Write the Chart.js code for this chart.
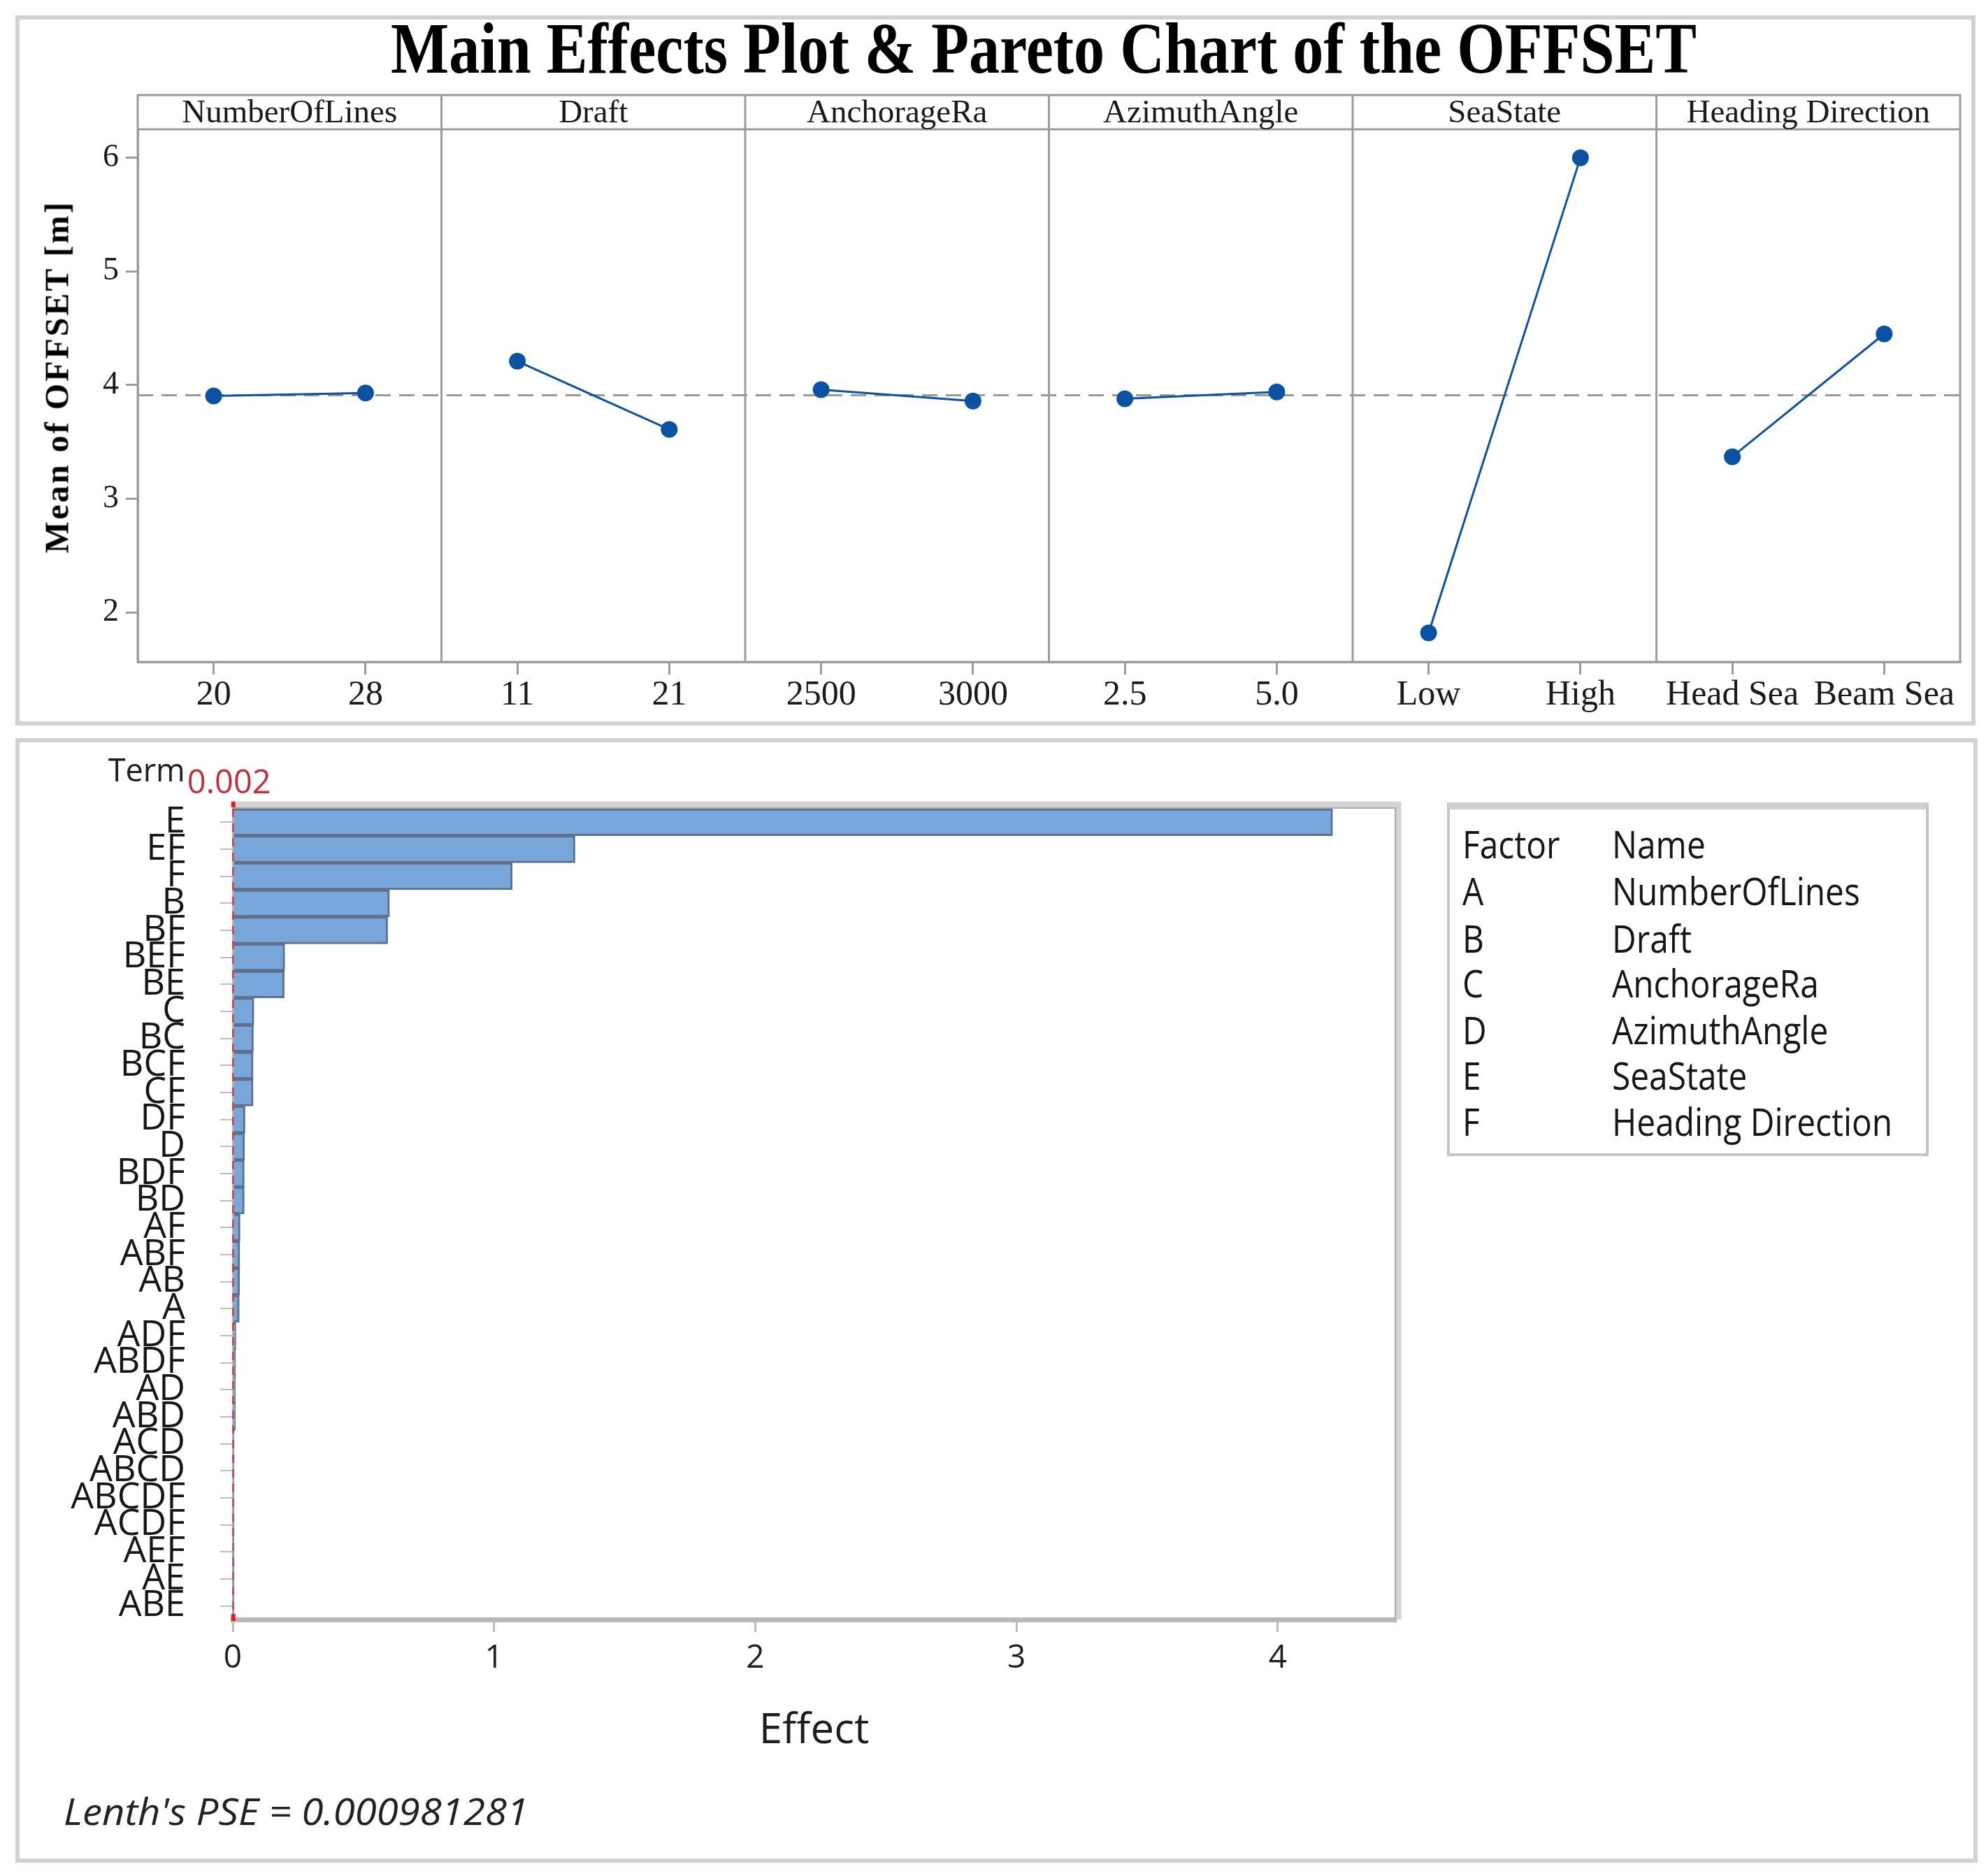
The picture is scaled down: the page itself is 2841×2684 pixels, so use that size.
<!DOCTYPE html>
<html><head><meta charset="utf-8">
<script src="https://cdn.jsdelivr.net/npm/chart.js@4.4.1/dist/chart.umd.min.js"></script>
<style>
html,body{margin:0;padding:0;background:#fff;}
body{width:2841px;height:2684px;position:relative;overflow:hidden;}
.panel{position:absolute;border:6px solid #d2d2d2;box-sizing:border-box;}
canvas{position:absolute;left:0;}
.txt{position:absolute;white-space:nowrap;transform-origin:0 0;color:#1e1e1e;}
#legend{position:absolute;left:2070px;top:1148px;width:689px;height:506px;box-sizing:border-box;border:4px solid #c4c4c4;border-top:10px solid #d0d0d0;}
</style></head><body>
<div class="panel" style="left:22px;top:22px;width:2804px;height:1016px"></div>
<div class="panel" style="left:22px;top:1056px;width:2807px;height:1609px"></div>
<div id="legend"></div>
<canvas id="me" width="2841" height="1060" style="top:0"></canvas>
<canvas id="pa" width="2841" height="1624" style="top:1060px"></canvas>
<script>
// ---------- data: main effects ----------
const factorNames = ['NumberOfLines','Draft','AnchorageRa','AzimuthAngle','SeaState','Heading Direction'];
const levelLabels = ['20','28','11','21','2500','3000','2.5','5.0','Low','High','Head Sea','Beam Sea'];
const lowMeans  = [3.905, 4.21, 3.96, 3.88, 1.82, 3.37];
const highMeans = [3.93, 3.61, 3.86, 3.94, 6.00, 4.45];
const grandMean = 3.91;
const meanTicks = [2, 3, 4, 5, 6];
const meanTitle = 'Mean of OFFSET [m]';

// ---------- data: pareto ----------
const terms = ['E','EF','F','B','BF','BEF','BE','C','BC','BCF','CF','DF','D','BDF','BD','AF','ABF','AB','A','ADF','ABDF','AD','ABD','ACD','ABCD','ABCDF','ACDF','AEF','AE','ABE'];
const effects = [4.21, 1.31, 1.07, 0.60, 0.593, 0.199, 0.197, 0.081, 0.079, 0.078, 0.078, 0.047, 0.045, 0.044, 0.044, 0.028, 0.027, 0.026, 0.025, 0.012, 0.011, 0.010, 0.010, 0.002, 0.002, 0.0015, 0.0015, 0.001, 0.001, 0.001];
const effectTicks = [0, 1, 2, 3, 4];
const refEffect = 0.002;
const factorLetters = ['A','B','C','D','E','F'];
const pseText = "Lenth's PSE = 0.000981281";

// ---------- text helper ----------
const METRICS = {
  'Liberation Serif': {a:0.891, d:0.216, cap:0.662},
  'Open Sans': {a:1.069, d:0.293, cap:0.714}
};
function placeText(txt, o) {
  const el = document.createElement('div');
  el.className = 'txt';
  el.textContent = txt;
  el.style.font = `${o.style||'normal'} ${o.weight||'normal'} ${o.size}px '${o.family}'`;
  el.style.lineHeight = '1';
  if (o.color) el.style.color = o.color;
  document.body.appendChild(el);
  const nat = el.getBoundingClientRect().width;
  const sx = o.width ? o.width / nat : (o.scale || 1);
  const m = METRICS[o.family];
  const baseline = o.capY + m.cap * o.size / 2;
  const top = baseline - (m.a - (m.a + m.d - 1) / 2) * o.size;
  let left = o.x;
  if (o.align === 'center') left = o.x - nat * sx / 2;
  el.style.left = left + 'px';
  el.style.top = top + 'px';
  el.style.transform = `scaleX(${sx})`;
}

placeText('Main Effects Plot & Pareto Chart of the OFFSET',
  {family:'Liberation Serif', weight:'bold', size:104, x:1493, align:'center', width:1868, capY:70, color:'#000'});

// rotated y-axis title of the main effects plot
(function () {
  const el = document.createElement('div');
  el.className = 'txt';
  el.textContent = meanTitle;
  el.style.font = "bold 48px 'Liberation Serif'";
  el.style.lineHeight = '1';
  el.style.letterSpacing = '3px';
  el.style.color = '#000';
  document.body.appendChild(el);
  const r = el.getBoundingClientRect();
  el.style.left = (82 - r.width / 2) + 'px';
  el.style.top = (539 - r.height / 2) + 'px';
  el.style.transformOrigin = '50% 50%';
  el.style.transform = 'rotate(-90deg)';
})();

// legend
const legRows = [['Factor','Name']].concat(factorLetters.map((l,i)=>[l, factorNames[i]]));
const legY = [1209, 1276, 1344, 1408, 1475, 1540, 1606];
legRows.forEach((r, i) => {
  placeText(r[0], {family:'Open Sans', size:54, x:2092, capY:legY[i], scale:0.886, color:'#161616'});
  placeText(r[1], {family:'Open Sans', size:54, x:2306, capY:legY[i], scale:0.886, color:'#161616'});
});
placeText(pseText, {family:'Open Sans', style:'italic', size:53, x:91, capY:2592, width:665, color:'#222'});

Chart.defaults.devicePixelRatio = 1;

// ---------- main effects chart ----------
const meDatasets = factorNames.map((name, i) => ({
  label: name,
  data: levelLabels.map((_, j) => j === 2*i ? lowMeans[i] : (j === 2*i+1 ? highMeans[i] : null)),
  borderColor: '#0b52a2',
  backgroundColor: '#0b52a2',
  borderWidth: 3,
  pointRadius: 12,
  pointBorderWidth: 0,
  pointBackgroundColor: '#0b52a2',
  spanGaps: false,
  tension: 0
}));

const mePanels = {
  id: 'mePanels',
  beforeDatasetsDraw(chart) {
    const {ctx, chartArea: a, scales: {x, y}} = chart;
    const band = (a.right - a.left) / levelLabels.length;
    const hTop = a.top - 49;
    ctx.save();
    // mean line
    ctx.strokeStyle = '#9a9a9a'; ctx.lineWidth = 3; ctx.setLineDash([22, 12]);
    const my = y.getPixelForValue(grandMean);
    ctx.beginPath(); ctx.moveTo(a.left, my); ctx.lineTo(a.right, my); ctx.stroke();
    ctx.setLineDash([]);
    // frame, header strip, separators
    ctx.strokeStyle = '#9c9c9c'; ctx.lineWidth = 3;
    ctx.strokeRect(a.left, hTop, a.right - a.left, a.bottom - hTop);
    ctx.beginPath(); ctx.moveTo(a.left, a.top); ctx.lineTo(a.right, a.top);
    for (let k = 1; k < factorNames.length; k++) {
      const px = x.getPixelForValue(2*k) - band / 2;
      ctx.moveTo(px, hTop); ctx.lineTo(px, a.bottom);
    }
    ctx.stroke();
    ctx.fillStyle = '#1a1a1a';
    ctx.font = "47px 'Liberation Serif'";
    ctx.textAlign = 'center'; ctx.textBaseline = 'middle';
    factorNames.forEach((n, k) => {
      const cx = (x.getPixelForValue(2*k) + x.getPixelForValue(2*k+1)) / 2;
      ctx.fillText(n, cx, (hTop + a.top) / 2 + 2);
    });
    ctx.restore();
  }
};

new Chart(document.getElementById('me'), {
  type: 'line',
  data: { labels: levelLabels, datasets: meDatasets },
  options: {
    responsive: false, animation: false,
    layout: { padding: { left: 0, right: 37, top: 185, bottom: 0 } },
    plugins: { legend: { display: false }, tooltip: { enabled: false }, title: { display: false } },
    scales: {
      x: {
        type: 'category', offset: true,
        grid: { display: true, drawOnChartArea: false, drawTicks: true, tickLength: 18, color: '#9c9c9c', lineWidth: 3, offset: false },
        border: { display: true, color: '#9c9c9c', width: 3 },
        ticks: { font: { family: 'Liberation Serif', size: 50 }, color: '#1a1a1a', padding: 0, maxRotation: 0, autoSkip: false },
        afterFit(s) { s.height = 113; }
      },
      y: {
        min: 1.565, max: 6.25,
        afterBuildTicks(s) { s.ticks = meanTicks.map(v => ({ value: v })); },
        grid: { display: true, drawOnChartArea: false, drawTicks: true, tickLength: 17, color: '#9c9c9c', lineWidth: 3 },
        border: { display: true, color: '#9c9c9c', width: 3 },
        ticks: { font: { family: 'Liberation Serif', size: 46 }, color: '#1a1a1a', padding: 10 },
        afterFit(s) { s.width = 197; }
      }
    }
  },
  plugins: [mePanels]
});

// ---------- pareto chart ----------
const paDeco = {
  id: 'paDeco',
  beforeDatasetsDraw(chart) {
    const {ctx, chartArea: a, scales: {x}} = chart;
    const rx = x.getPixelForValue(refEffect);
    ctx.save();
    ctx.strokeStyle = '#d03a3a'; ctx.lineWidth = 3; ctx.setLineDash([12, 9]);
    ctx.beginPath(); ctx.moveTo(rx, a.top); ctx.lineTo(rx, a.bottom); ctx.stroke();
    ctx.restore();
  },
  afterDraw(chart) {
    const {ctx, chartArea: a, scales: {x}} = chart;
    const rx = x.getPixelForValue(refEffect);
    ctx.save();
    // frame top & right
    ctx.strokeStyle = '#d3d3d3'; ctx.lineWidth = 9;
    ctx.beginPath(); ctx.moveTo(a.left, a.top - 6); ctx.lineTo(a.right + 4, a.top - 6); ctx.lineTo(a.right + 4, a.bottom); ctx.stroke();
    ctx.strokeStyle = '#ababab'; ctx.lineWidth = 2;
    ctx.beginPath(); ctx.moveTo(a.left, a.top - 1); ctx.lineTo(a.right, a.top - 1); ctx.lineTo(a.right, a.bottom); ctx.stroke();
    // red marks at ends of reference line
    ctx.fillStyle = '#e02020';
    ctx.fillRect(rx - 3, a.top - 10, 6, 8);
    ctx.fillRect(rx - 3, a.bottom - 8, 6, 10);
    // Term and reference label
    ctx.textBaseline = 'alphabetic';
    ctx.fillStyle = '#1e1e1e'; ctx.textAlign = 'right';
    ctx.font = "45px 'Open Sans'";
    ctx.fillText('Term', rx - 69, 58);
    ctx.fillStyle = '#c0303a'; ctx.textAlign = 'center';
    ctx.font = "47px 'Open Sans'";
    ctx.fillText(String(refEffect), rx - 6, 75);
    ctx.restore();
  }
};

new Chart(document.getElementById('pa'), {
  type: 'bar',
  data: { labels: terms, datasets: [{
    label: 'Effect', data: effects,
    backgroundColor: '#79a6db', borderColor: '#5e708b', borderWidth: 3,
    barPercentage: 1.0, categoryPercentage: 1.0
  }] },
  options: {
    indexAxis: 'y', responsive: false, animation: false,
    layout: { padding: { left: 0, right: 845, top: 97, bottom: 171 } },
    plugins: { legend: { display: false }, tooltip: { enabled: false } },
    scales: {
      y: {
        type: 'category', offset: true,
        grid: { display: true, drawOnChartArea: false, drawTicks: true, tickLength: 18, color: '#bdbdbd', lineWidth: 2, offset: false },
        border: { display: true, color: '#b0b0b0', width: 3 },
        ticks: { font: { family: "'Liberation Sans Narrow', 'Open Sans'", size: 52 }, color: '#161616', padding: 50, autoSkip: false },
        afterFit(s) { s.width = 333; }
      },
      x: {
        min: 0, max: 4.45,
        afterBuildTicks(s) { s.ticks = effectTicks.map(v => ({ value: v })); },
        grid: { display: true, drawOnChartArea: false, drawTicks: true, tickLength: 18, color: '#bdbdbd', lineWidth: 3 },
        border: { display: true, color: '#b8b8b8', width: 7 },
        ticks: { font: { family: 'Open Sans', size: 46 }, color: '#1e1e1e', padding: 10, maxRotation: 0 },
        title: { display: true, text: 'Effect', font: { family: 'Open Sans', size: 60 }, color: '#1e1e1e', padding: 0 },
        afterFit(s) { s.height = 196; }
      }
    }
  },
  plugins: [paDeco]
});
</script>
</body></html>
